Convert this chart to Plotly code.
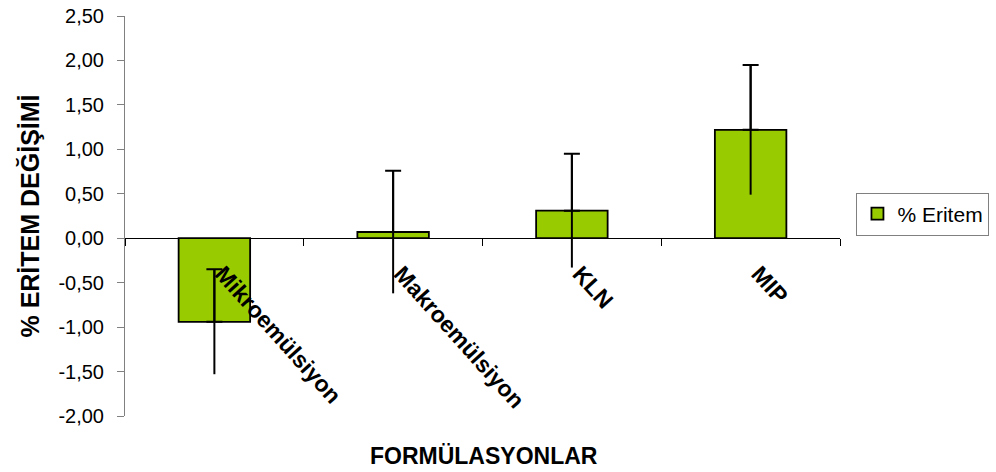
import plotly.graph_objects as go

# Erythema change per formulation (mean ± SD)
categories = ["Mikroemülsiyon", "Makroemülsiyon", "KLN", "MIP"]
eritem_mean = [-0.94, 0.07, 0.31, 1.22]
eritem_sd = [0.59, 0.69, 0.64, 0.73]

# Value axis ticks (decimal comma, plain hyphen for negatives)
y_tick_vals = [-2.0, -1.5, -1.0, -0.5, 0.0, 0.5, 1.0, 1.5, 2.0, 2.5]
y_tick_labels = ["-2,00", "-1,50", "-1,00", "-0,50", "0,00",
                 "0,50", "1,00", "1,50", "2,00", "2,50"]
y_min, y_max = y_tick_vals[0], y_tick_vals[-1]

FONT = "Liberation Sans, Arial, sans-serif"
GREEN = "#99CC00"

fig = go.Figure()

# Bars with the full-length error line (no caps)
fig.add_trace(go.Bar(
    x=categories, y=eritem_mean, name="% Eritem",
    marker=dict(color=GREEN, line=dict(color="black", width=1.8)),
    width=0.4,
    error_y=dict(type="data", array=eritem_sd, symmetric=True,
                 width=0, thickness=2, color="black"),
))

# Cap on the upper end of each error bar only
fig.add_trace(go.Scatter(
    x=categories, y=eritem_mean, mode="markers",
    marker=dict(size=1, color="rgba(0,0,0,0)"),
    error_y=dict(type="data", array=eritem_sd, arrayminus=[0] * len(eritem_sd),
                 symmetric=False, width=8, thickness=2, color="black"),
    showlegend=False, hoverinfo="skip",
))

fig.update_layout(
    width=996, height=472,
    margin=dict(l=125, r=156, t=16, b=56, autoexpand=False),
    paper_bgcolor="white", plot_bgcolor="white",
    font=dict(family=FONT, color="black", size=20),
    legend=dict(
        x=1.023, y=0.505, xanchor="left", yanchor="middle",
        bordercolor="#808080", borderwidth=1,
        font=dict(family=FONT, size=21, color="black"),
        tracegroupgap=0,
    ),
    xaxis=dict(
        type="category",
        anchor="free",
        position=(0 - y_min) / (y_max - y_min),
        automargin=False,
        showline=True, linecolor="black", linewidth=1,
        ticks="outside", tickson="boundaries", ticklen=7, tickcolor="black",
        tickangle=48,
        ticklabelstandoff=12, ticklabelshift=8,
        tickfont=dict(family=FONT, size=23, color="black", weight="bold"),
        showgrid=False,
    ),
    yaxis=dict(
        range=[y_min, y_max],
        tickmode="array", tickvals=y_tick_vals, ticktext=y_tick_labels,
        automargin=False,
        showline=True, linecolor="#808080", linewidth=1,
        ticks="outside", ticklen=7, tickcolor="#808080",
        ticklabelstandoff=9,
        showgrid=False, zeroline=False,
        tickfont=dict(family=FONT, size=20, color="black"),
        title=dict(text="<b>% ERİTEM DEĞİŞİMİ</b>",
                   font=dict(family=FONT, size=25, color="black"),
                   standoff=11),
    ),
    annotations=[dict(
        text="<b>FORMÜLASYONLAR</b>", xref="paper", yref="paper",
        x=0.502, y=-0.1, xanchor="center", yanchor="middle", showarrow=False,
        font=dict(family=FONT, size=23, color="black"),
    )],
)

fig.write_html("out.html")
